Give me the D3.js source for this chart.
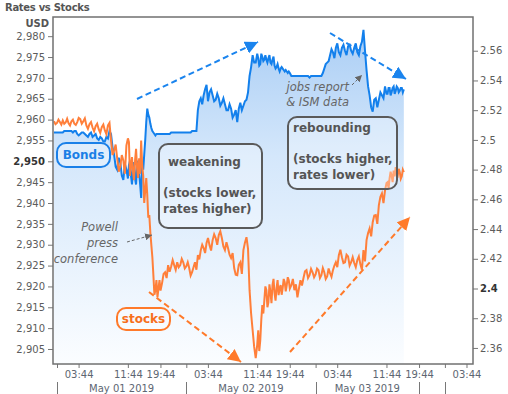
<!DOCTYPE html>
<html lang="en">
<head>
<meta charset="utf-8">
<style>
  html, body { margin:0; padding:0; overflow:hidden; background:#fff; }
  svg { font-family: "DejaVu Sans", Verdana, sans-serif; }
  .axis text { fill:#5c5c5c; font-size:10px; }
  .axis line { stroke:#777; }
  .axis path { display:none; }
  .note { font-style: italic; fill:#666; font-size:11.5px; }
  .boxtext { font-weight: bold; fill:#555; font-size:12px; }
</style>
</head>
<body>
<svg width="508" height="394"></svg>
<script src="https://d3js.org/d3.v7.min.js"></script>
<script>
// 15 minute samples, Apr 30 23:30 -> May 03 16:00
var times = [
  "04-30 23:30","04-30 23:45",
  "05-01 00:00","05-01 00:15","05-01 00:30","05-01 00:45","05-01 01:00","05-01 01:15","05-01 01:30","05-01 01:45",
  "05-01 02:00","05-01 02:15","05-01 02:30","05-01 02:45","05-01 03:00","05-01 03:15","05-01 03:30","05-01 03:45",
  "05-01 04:00","05-01 04:15","05-01 04:30","05-01 04:45","05-01 05:00","05-01 05:15","05-01 05:30","05-01 05:45",
  "05-01 06:00","05-01 06:15","05-01 06:30","05-01 06:45","05-01 07:00","05-01 07:15","05-01 07:30","05-01 07:45",
  "05-01 08:00","05-01 08:15","05-01 08:30","05-01 08:45","05-01 09:00","05-01 09:15","05-01 09:30","05-01 09:45",
  "05-01 10:00","05-01 10:15","05-01 10:30","05-01 10:45","05-01 11:00","05-01 11:15","05-01 11:30","05-01 11:45",
  "05-01 12:00","05-01 12:15","05-01 12:30","05-01 12:45","05-01 13:00","05-01 13:15","05-01 13:30","05-01 13:45",
  "05-01 14:00","05-01 14:15","05-01 14:30","05-01 14:45","05-01 15:00","05-01 15:15","05-01 15:30","05-01 15:45",
  "05-01 16:00","05-01 16:15","05-01 16:30","05-01 16:45","05-01 17:00","05-01 17:15","05-01 17:30","05-01 17:45",
  "05-01 18:00","05-01 18:15","05-01 18:30","05-01 18:45","05-01 19:00","05-01 19:15","05-01 19:30","05-01 19:45",
  "05-01 20:00","05-01 20:15","05-01 20:30","05-01 20:45","05-01 21:00","05-01 21:15","05-01 21:30","05-01 21:45",
  "05-01 22:00","05-01 22:15","05-01 22:30","05-01 22:45","05-01 23:00","05-01 23:15","05-01 23:30","05-01 23:45",
  "05-02 00:00","05-02 00:15","05-02 00:30","05-02 00:45","05-02 01:00","05-02 01:15","05-02 01:30","05-02 01:45",
  "05-02 02:00","05-02 02:15","05-02 02:30","05-02 02:45","05-02 03:00","05-02 03:15","05-02 03:30","05-02 03:45",
  "05-02 04:00","05-02 04:15","05-02 04:30","05-02 04:45","05-02 05:00","05-02 05:15","05-02 05:30","05-02 05:45",
  "05-02 06:00","05-02 06:15","05-02 06:30","05-02 06:45","05-02 07:00","05-02 07:15","05-02 07:30","05-02 07:45",
  "05-02 08:00","05-02 08:15","05-02 08:30","05-02 08:45","05-02 09:00","05-02 09:15","05-02 09:30","05-02 09:45",
  "05-02 10:00","05-02 10:15","05-02 10:30","05-02 10:45","05-02 11:00","05-02 11:15","05-02 11:30","05-02 11:45",
  "05-02 12:00","05-02 12:15","05-02 12:30","05-02 12:45","05-02 13:00","05-02 13:15","05-02 13:30","05-02 13:45",
  "05-02 14:00","05-02 14:15","05-02 14:30","05-02 14:45","05-02 15:00","05-02 15:15","05-02 15:30","05-02 15:45",
  "05-02 16:00","05-02 16:15","05-02 16:30","05-02 16:45","05-02 17:00","05-02 17:15","05-02 17:30","05-02 17:45",
  "05-02 18:00","05-02 18:15","05-02 18:30","05-02 18:45","05-02 19:00","05-02 19:15","05-02 19:30","05-02 19:45",
  "05-02 20:00","05-02 20:15","05-02 20:30","05-02 20:45","05-02 21:00","05-02 21:15","05-02 21:30","05-02 21:45",
  "05-02 22:00","05-02 22:15","05-02 22:30","05-02 22:45","05-02 23:00","05-02 23:15","05-02 23:30","05-02 23:45",
  "05-03 00:00","05-03 00:15","05-03 00:30","05-03 00:45","05-03 01:00","05-03 01:15","05-03 01:30","05-03 01:45",
  "05-03 02:00","05-03 02:15","05-03 02:30","05-03 02:45","05-03 03:00","05-03 03:15","05-03 03:30","05-03 03:45",
  "05-03 04:00","05-03 04:15","05-03 04:30","05-03 04:45","05-03 05:00","05-03 05:15","05-03 05:30","05-03 05:45",
  "05-03 06:00","05-03 06:15","05-03 06:30","05-03 06:45","05-03 07:00","05-03 07:15","05-03 07:30","05-03 07:45",
  "05-03 08:00","05-03 08:15","05-03 08:30","05-03 08:45","05-03 09:00","05-03 09:15","05-03 09:30","05-03 09:45",
  "05-03 10:00","05-03 10:15","05-03 10:30","05-03 10:45","05-03 11:00","05-03 11:15","05-03 11:30","05-03 11:45",
  "05-03 12:00","05-03 12:15","05-03 12:30","05-03 12:45","05-03 13:00","05-03 13:15","05-03 13:30","05-03 13:45",
  "05-03 14:00","05-03 14:15","05-03 14:30","05-03 14:45","05-03 15:00","05-03 15:15","05-03 15:30","05-03 15:45",
  "05-03 16:00"
];

// S&P 500 (left axis, USD)
var stocks = [
  2959.6, 2958.9,
  2959.2, 2960.0, 2959.4, 2958.8, 2959.8, 2959.0, 2959.3, 2960.2,
  2959.1, 2958.6, 2959.6, 2960.0, 2959.0, 2958.7, 2959.4, 2960.4,
  2960.1, 2959.0, 2959.6, 2960.3, 2958.6, 2957.8, 2958.9, 2959.4,
  2958.1, 2957.2, 2958.4, 2959.0, 2957.7, 2956.8, 2958.2, 2958.8,
  2957.4, 2956.5, 2958.6, 2959.2, 2955.0, 2951.5, 2952.6, 2954.0,
  2950.7, 2947.5, 2948.8, 2951.5, 2950.2, 2947.0, 2953.8, 2955.5,
  2954.6, 2946.5, 2949.0, 2951.0, 2947.4, 2945.5, 2950.2, 2953.0,
  2948.3, 2946.0, 2950.7, 2947.0, 2955.0, 2949.0, 2946.6, 2940.0,
  2943.0, 2946.0, 2941.9, 2936.5, 2937.1, 2933.0, 2929.9, 2927.0,
  2922.7, 2918.0, 2919.1, 2921.5, 2917.4, 2919.5, 2921.5, 2919.0,
  2920.8, 2923.0, 2923.4, 2922.0, 2925.1, 2923.5, 2924.8, 2926.3,
  2925.1, 2924.0, 2925.8, 2924.6, 2925.1, 2926.6, 2925.8, 2924.3,
  2924.8, 2925.8, 2924.4, 2922.6, 2923.4, 2924.6, 2925.8, 2924.0,
  2927.5, 2926.5, 2928.7, 2930.0, 2929.2, 2928.0, 2930.4, 2931.6,
  2929.9, 2928.6, 2931.1, 2932.5, 2931.6, 2930.0, 2932.3, 2933.2,
  2931.6, 2929.6, 2928.7, 2930.6, 2929.2, 2927.6, 2926.8, 2928.0,
  2924.4, 2922.8, 2922.7, 2925.2, 2925.8, 2923.0, 2928.7, 2930.5,
  2931.8, 2929.0, 2919.1, 2913.5, 2909.5, 2905.5, 2902.8, 2906.0,
  2909.5, 2904.5, 2907.1, 2912.0, 2915.5, 2913.5, 2916.7, 2920.0,
  2919.1, 2915.0, 2916.2, 2920.5, 2918.6, 2916.0, 2920.3, 2921.8,
  2918.4, 2916.6, 2919.6, 2921.5, 2917.9, 2919.6, 2920.3, 2918.0,
  2919.6, 2921.8, 2921.0, 2918.8, 2920.3, 2922.2, 2921.5, 2919.5,
  2920.3, 2921.8, 2919.1, 2920.5, 2917.4, 2919.5, 2921.5, 2920.2,
  2922.0, 2923.6, 2923.9, 2922.0, 2922.7, 2924.2, 2923.4, 2922.2,
  2922.9, 2924.3, 2923.9, 2922.0, 2922.7, 2924.4, 2923.4, 2921.8,
  2922.4, 2924.3, 2923.2, 2922.3, 2923.9, 2925.0, 2925.8, 2924.6,
  2927.5, 2928.8, 2927.0, 2925.6, 2925.8, 2927.6, 2927.2, 2925.0,
  2925.8, 2927.0, 2925.6, 2924.6, 2926.3, 2927.2, 2925.3, 2924.0,
  2928.7, 2926.0, 2931.1, 2932.8, 2933.9, 2932.0, 2935.4, 2937.0,
  2937.1, 2935.0, 2939.5, 2941.5, 2942.3, 2940.0, 2943.0, 2944.8,
  2945.0, 2943.5, 2945.9, 2947.5, 2946.6, 2945.0, 2947.8, 2946.4,
  2948.6, 2947.0, 2946.6, 2948.2, 2947.4, 2945.8, 2946.4, 2948.0,
  2947.4
];

// 10yr yield (right axis)
var bonds = [
  2.505, 2.505,
  2.505, 2.505, 2.505, 2.505, 2.505, 2.506, 2.506, 2.506,
  2.506, 2.506, 2.506, 2.505, 2.506, 2.506, 2.504, 2.503,
  2.504, 2.505, 2.505, 2.504, 2.503, 2.502, 2.504, 2.505,
  2.502, 2.503, 2.504, 2.501, 2.500, 2.502, 2.501, 2.499,
  2.499, 2.502, 2.501, 2.506, 2.504, 2.495, 2.490, 2.482,
  2.480, 2.488, 2.485, 2.476, 2.473, 2.484, 2.480, 2.474,
  2.483, 2.486, 2.476, 2.470, 2.481, 2.485, 2.474, 2.470,
  2.483, 2.486, 2.478, 2.470, 2.461, 2.485, 2.480, 2.490,
  2.500, 2.512, 2.521, 2.517, 2.515, 2.511, 2.508, 2.506,
  2.505, 2.504, 2.503, 2.504, 2.504, 2.504, 2.504, 2.504,
  2.504, 2.504, 2.504, 2.504, 2.504, 2.504, 2.505, 2.505,
  2.505, 2.505, 2.505, 2.505, 2.505, 2.505, 2.505, 2.505,
  2.505, 2.505, 2.505, 2.505, 2.506, 2.506, 2.506, 2.506,
  2.520, 2.526, 2.528, 2.524, 2.530, 2.534, 2.537, 2.526,
  2.532, 2.534, 2.530, 2.526, 2.527, 2.531, 2.528, 2.523,
  2.525, 2.528, 2.524, 2.520, 2.520, 2.524, 2.521, 2.515,
  2.517, 2.520, 2.512, 2.521, 2.525, 2.520, 2.523, 2.526,
  2.527, 2.532, 2.543, 2.549, 2.557, 2.552, 2.552, 2.558,
  2.555, 2.550, 2.551, 2.558, 2.556, 2.553, 2.554, 2.557,
  2.554, 2.552, 2.555, 2.557, 2.552, 2.551, 2.554, 2.556,
  2.550, 2.548, 2.549, 2.551, 2.548, 2.546, 2.548, 2.549,
  2.548, 2.547, 2.546, 2.547, 2.546, 2.545, 2.546, 2.545,
  2.543, 2.543, 2.543, 2.543, 2.543, 2.543, 2.543, 2.543,
  2.543, 2.543, 2.543, 2.543, 2.542, 2.543, 2.543, 2.543,
  2.543, 2.543, 2.543, 2.543, 2.543, 2.545, 2.548, 2.551,
  2.552, 2.553, 2.557, 2.561, 2.559, 2.555, 2.562, 2.565,
  2.559, 2.557, 2.562, 2.564, 2.560, 2.557, 2.563, 2.564,
  2.560, 2.558, 2.562, 2.565, 2.559, 2.557, 2.563, 2.566,
  2.574, 2.560, 2.547, 2.536, 2.530, 2.522, 2.519, 2.527,
  2.528, 2.522, 2.527, 2.532, 2.530, 2.528, 2.536, 2.531,
  2.531, 2.535, 2.535, 2.530, 2.532, 2.535, 2.536, 2.531,
  2.533, 2.536, 2.535, 2.532, 2.533, 2.535, 2.535, 2.532,
  2.534
];

var stockTicks = [2905, 2910, 2915, 2920, 2925, 2930, 2935, 2940, 2945, 2950, 2955, 2960, 2965, 2970, 2975, 2980];
var bondTicks = [2.36, 2.38, 2.4, 2.42, 2.44, 2.46, 2.48, 2.5, 2.52, 2.54, 2.56];
var stockBold = 2950, bondBold = 2.4;

var timeLabelTicks = ["05-01 03:44","05-01 11:44","05-01 19:44","05-02 03:44","05-02 11:44","05-02 19:44",
                      "05-03 03:44","05-03 11:44","05-03 19:44","05-04 03:44"];
var dayTicks = ["05-01 00:00","05-02 00:00","05-03 00:00","05-04 00:00"];
var dateLabels = ["May 01 2019","May 02 2019","May 03 2019"];
var dateSeps = ["05-01 00:00","05-02 00:00","05-03 00:00","05-03 19:44","05-04 00:00"];

var parse = function (s) { return d3.timeParse("%Y-%m-%d %H:%M")("2019-" + s); };

var svg = d3.select("svg"),
    plotL = 53, plotR = 473, plotT = 17, plotB = 364;

// compressed session axis: each day gets the same width, clock hours are not even
var clockHours = [0, 3 + 44/60, 11 + 44/60, 19 + 44/60];
var clockFrac = [0, 0.167, 0.548, 0.80];
var dayW = 129.3, day0X = 57;
var xDom = [], xRng = [];
for (var i = -1; i <= 4; i++) {
    var day = d3.timeDay.offset(parse("05-01 00:00"), i);
    clockHours.forEach(function (h, j) {
        xDom.push(new Date(+day + h * 36e5));
        xRng.push(day0X + (i + clockFrac[j]) * dayW);
    });
}
var x = d3.scaleTime().domain(xDom).range(xRng);
var yS = d3.scaleLinear().domain([2901.4, 2984.6]).range([plotB, plotT]);
var yB = d3.scaleLinear().domain([2.3492, 2.5827]).range([plotB, plotT]);

var data = times.map(function (t, i) { return {t: parse(t), s: stocks[i], b: bonds[i]}; });

var defs = svg.append("defs");
defs.append("clipPath").attr("id", "plot")
    .append("rect").attr("x", plotL).attr("y", plotT).attr("width", plotR - plotL).attr("height", plotB - plotT);

var grad = defs.append("linearGradient").attr("id", "fillGrad")
    .attr("gradientUnits", "userSpaceOnUse")
    .attr("x1", 0).attr("x2", 0).attr("y1", plotT).attr("y2", plotB);
grad.append("stop").attr("offset", 0).attr("stop-color", "#a6cbf4");
grad.append("stop").attr("offset", 0.4).attr("stop-color", "#d4e7fb");
grad.append("stop").attr("offset", 1).attr("stop-color", "#fbfdff");

function marker(id, color, size) {
    defs.append("marker")
        .attr("id", id)
        .attr("viewBox", "0 -5 10 10")
        .attr("refX", 10).attr("refY", 0)
        .attr("markerUnits", "userSpaceOnUse")
        .attr("markerWidth", size).attr("markerHeight", size)
        .attr("orient", "auto")
        .append("path").attr("d", "M0,-5L10,0L0,5Z").attr("fill", color);
}
marker("arrBlue", "#1a84ee", 13);
marker("arrOrange", "#ff7a2a", 13);
marker("arrGray", "#666", 7);

var plot = svg.append("g").attr("clip-path", "url(#plot)");

plot.append("path")
    .datum(data)
    .attr("fill", "url(#fillGrad)")
    .attr("d", d3.area().x(function (d) { return x(d.t); }).y0(plotB).y1(function (d) { return yB(d.b); }));

plot.append("path")
    .datum(data)
    .attr("fill", "none")
    .attr("stroke", "#1380ec")
    .attr("stroke-width", 2)
    .attr("d", d3.line().x(function (d) { return x(d.t); }).y(function (d) { return yB(d.b); }));

plot.append("path")
    .datum(data)
    .attr("fill", "none")
    .attr("stroke", "#ff7f3a")
    .attr("stroke-width", 2)
    .attr("d", d3.line().x(function (d) { return x(d.t); }).y(function (d) { return yS(d.s); }));

// axes
var gL = svg.append("g").attr("class", "axis").attr("transform", "translate(" + plotL + ",0)")
    .call(d3.axisLeft(yS).tickValues(stockTicks).tickSize(5).tickPadding(3).tickFormat(d3.format(",")));
var gR = svg.append("g").attr("class", "axis").attr("transform", "translate(" + plotR + ",0)")
    .call(d3.axisRight(yB).tickValues(bondTicks).tickSize(5).tickPadding(2).tickFormat(d3.format(".2~f")));
svg.selectAll(".axis").attr("font-family", null).attr("font-size", null);
gL.selectAll(".tick text").filter(function (d) { return d === stockBold; }).style("font-weight", "bold").style("fill", "#333");
gR.selectAll(".tick text").filter(function (d) { return d === bondBold; }).style("font-weight", "bold").style("fill", "#333");

var labelSet = timeLabelTicks.map(parse);
var allTicks = labelSet.concat(dayTicks.map(parse));
var gX = svg.append("g").attr("class", "axis").attr("transform", "translate(0," + plotB + ")")
    .call(d3.axisBottom(x).tickValues(allTicks).tickSize(4).tickPadding(3)
        .tickFormat(function (d) { return labelSet.some(function (e) { return +e === +d; }) ? d3.timeFormat("%H:%M")(d) : ""; }));
gX.attr("font-family", null).attr("font-size", null);
gX.selectAll(".tick text").style("fill", "#5d6672");

// date row
var seps = dateSeps.map(parse);
svg.append("g").selectAll("line").data(seps).enter().append("line")
    .attr("x1", function (d) { return Math.round(x(d)) + 0.5; })
    .attr("x2", function (d) { return Math.round(x(d)) + 0.5; })
    .attr("y1", 382).attr("y2", 394)
    .attr("stroke", "#777");
svg.append("g").selectAll("text").data(dateLabels).enter().append("text")
    .attr("x", function (d, i) { return (x(seps[i]) + x(seps[i + 1])) / 2; })
    .attr("y", 392)
    .attr("text-anchor", "middle")
    .attr("font-size", 10)
    .attr("fill", "#5d6672")
    .text(function (d) { return d; });

// frame
svg.append("rect")
    .attr("x", plotL).attr("y", plotT).attr("width", plotR - plotL).attr("height", plotB - plotT)
    .attr("fill", "none").attr("stroke", "#707070").attr("stroke-width", 1.5);

// titles
svg.append("text").attr("x", 5).attr("y", 11).attr("font-size", 10).attr("font-weight", "bold")
    .attr("letter-spacing", -0.3).attr("fill", "#555").text("Rates vs Stocks");
svg.append("text").attr("x", 49).attr("y", 27).attr("text-anchor", "end").attr("font-size", 10)
    .attr("font-weight", "bold").attr("fill", "#555").text("USD");

// annotation arrows
function arrow(x1, y1, x2, y2, color, mark, w, dash) {
    svg.append("line")
        .attr("x1", x1).attr("y1", y1).attr("x2", x2).attr("y2", y2)
        .attr("stroke", color).attr("stroke-width", w)
        .attr("stroke-dasharray", dash)
        .attr("marker-end", "url(#" + mark + ")");
}
arrow(137, 99, 258, 42, "#1a84ee", "arrBlue", 2, "6,3.5");
arrow(330, 33, 406, 79, "#1a84ee", "arrBlue", 2, "6,3.5");
arrow(149, 292, 241, 362, "#ff7a2a", "arrOrange", 2, "6,3.5");
arrow(290, 352, 410, 217, "#ff7a2a", "arrOrange", 2, "6,3.5");
arrow(127, 242, 152, 235, "#666", "arrGray", 1, "3,2");
arrow(352, 85, 362, 75, "#666", "arrGray", 1, "3,2");

// boxes
function box(x0, y0, w, h, stroke) {
    svg.append("rect").attr("x", x0).attr("y", y0).attr("width", w).attr("height", h)
        .attr("rx", 9).attr("fill", "#fff").attr("fill-opacity", 0.3)
        .attr("stroke", stroke).attr("stroke-width", 2);
}
box(57, 143, 53, 24, "#1a80e8");
svg.append("text").attr("x", 83.5).attr("y", 159).attr("text-anchor", "middle")
    .attr("font-size", 12).attr("font-weight", "bold").attr("fill", "#1a7fe6").text("Bonds");
box(117, 308, 53, 22, "#ff7a2a");
svg.append("text").attr("x", 143.5).attr("y", 323).attr("text-anchor", "middle")
    .attr("font-size", 12).attr("font-weight", "bold").attr("fill", "#f76f1c").text("stocks");

function textBlock(lines, x0, y0, lh, cls, anchor) {
    var t = svg.append("text").attr("class", cls).attr("text-anchor", anchor || "start");
    lines.forEach(function (s, i) {
        t.append("tspan").attr("x", x0).attr("y", y0 + i * lh).text(s);
    });
    return t;
}
box(159, 144, 103, 84, "#5a5a5a");
textBlock(["weakening", "", "(stocks lower,", "rates higher)"], 163, 165.5, 15.7, "boxtext")
    .select("tspan").attr("x", 168);
box(288, 117, 109, 72, "#5a5a5a");
textBlock(["rebounding", "", "(stocks higher,", "rates lower)"], 293, 131.5, 15.7, "boxtext");

textBlock(["Powell", "press", "conference"], 118, 231, 16, "note", "end");
textBlock(["jobs report", "& ISM data"], 349, 91, 14.5, "note", "end");
</script>
</body>
</html>
